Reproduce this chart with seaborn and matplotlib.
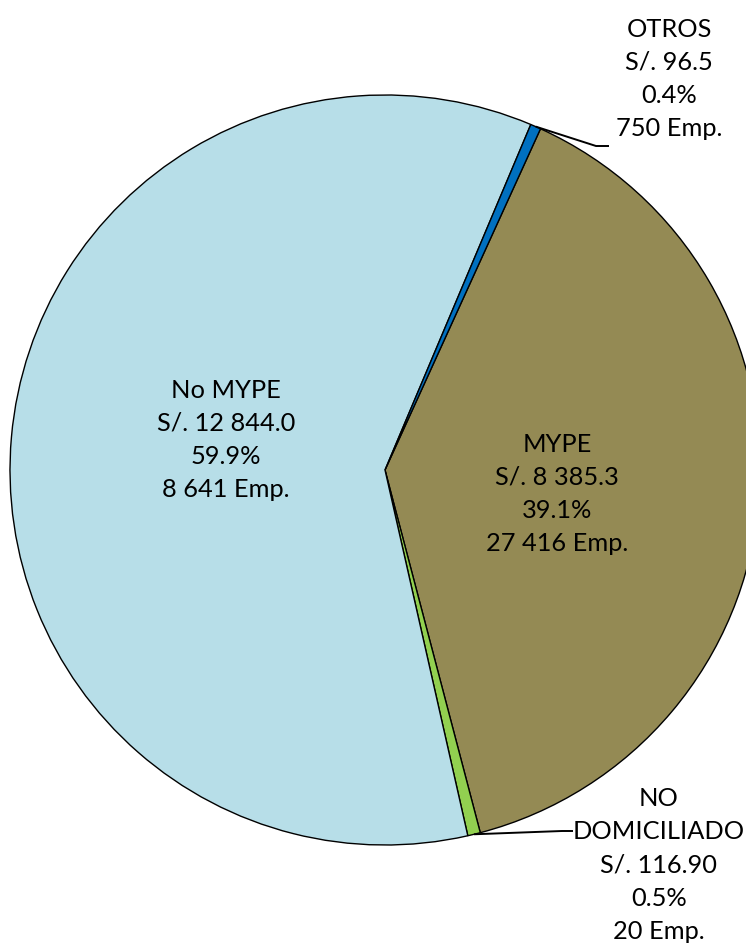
import numpy as np
import matplotlib
matplotlib.use("Agg")
import matplotlib.pyplot as plt
import seaborn as sns

# Data
categories = ["MYPE", "NO\nDOMICILIADO", "No MYPE", "OTROS"]
amounts = [8385.3, 116.9, 12844.0, 96.5]
amount_labels = ["S/. 8 385.3", "S/. 116.90", "S/. 12 844.0", "S/. 96.5"]
pct_labels = ["39.1%", "0.5%", "59.9%", "0.4%"]
firms = ["27 416 Emp.", "20 Emp.", "8 641 Emp.", "750 Emp."]
colors = ["#948A54", "#92D050", "#B7DEE8", "#0070C0"]

sns.set_theme(style="white")
plt.rcParams['font.family'] = ['Lato', 'DejaVu Sans']

W, H = 746, 951
fig = plt.figure(figsize=(W / 100, H / 100), dpi=100)
ax = fig.add_axes([0, 0, 1, 1])

cx, cy, R = 385.0, 470.0, 375.0  # pixel geometry of pie

def px(x, y):
    return (x - cx) / R, (cy - y) / R

wedges, _ = ax.pie(amounts, colors=colors, startangle=65.5, counterclock=False,
                   wedgeprops=dict(edgecolor="black", linewidth=1.0))

ax.set_xlim(-cx / R, (W - cx) / R)
ax.set_ylim(-(H - cy) / R, cy / R)
ax.set_aspect("auto")
ax.axis("off")

fs = 18.3
ls = 1.53

def label(i, x, y):
    txt = f"{categories[i]}\n{amount_labels[i]}\n{pct_labels[i]}\n{firms[i]}"
    X, Y = px(x, y)
    ax.text(X, Y, txt, ha="center", va="center", fontsize=fs,
            linespacing=ls, color="black")

label(0, 557, 494)
label(2, 226, 440)
label(3, 669, 79)
label(1, 659, 865)

# leader lines
def mid_edge(w):
    ang = np.deg2rad((w.theta1 + w.theta2) / 2)
    return np.cos(ang), np.sin(ang)

x0, y0 = mid_edge(wedges[3])
xa, ya = px(596, 146)
xb, yb = px(609, 146)
ax.plot([x0, xa, xb], [y0, ya, yb], color="black", lw=1.4, solid_capstyle="butt")

x0, y0 = mid_edge(wedges[1])
xa, ya = px(562, 831)
xb, yb = px(573, 831)
ax.plot([x0, xa, xb], [y0, ya, yb], color="black", lw=1.4, solid_capstyle="butt")

fig.savefig("out.png", dpi=100)
